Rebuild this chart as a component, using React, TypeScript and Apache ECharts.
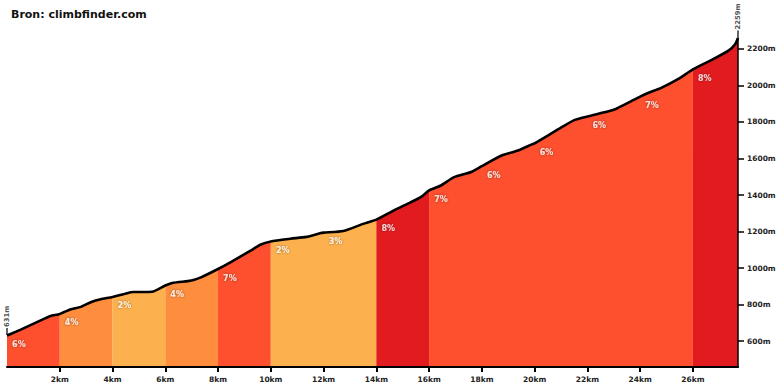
import React, { useEffect, useRef } from "react";
import * as echarts from "echarts";

const distKm = [0, 0.5, 1.4, 1.65, 2, 2.4, 2.8, 3.2, 3.55, 4, 4.55, 4.8, 5.5, 6, 6.3, 6.85, 7.1, 7.35, 8, 8.5, 9.25, 9.6, 10, 10.75, 11.35, 11.9, 12, 12.75, 13.5, 14, 14.65, 15.3, 15.7, 16, 16.45, 16.95, 17.6, 18, 18.75, 19.4, 19.9, 20, 20.5, 20.9, 21.5, 22, 22.8, 23.1, 23.65, 24, 24.3, 24.8, 25.45, 26, 26.7, 27.35, 27.6, 27.71];
const elevM = [631, 662, 722, 738, 749, 774, 788, 815, 830, 842, 863, 869, 871, 905, 920, 929, 936, 949, 995, 1034, 1097, 1128, 1146, 1161, 1171, 1192, 1194, 1203, 1242, 1265, 1315, 1360, 1390, 1425, 1452, 1498, 1526, 1558, 1616, 1645, 1677, 1683, 1725, 1760, 1810, 1830, 1858, 1872, 1912, 1938, 1958, 1986, 2035, 2087, 2138, 2190, 2225, 2259];

const segStart = [0, 2, 4, 6, 8, 10, 12, 14, 16, 18, 20, 22, 24, 26];
const segEnd = [2, 4, 6, 8, 10, 12, 14, 16, 18, 20, 22, 24, 26, 27.71];
const gradients = [6, 4, 2, 4, 7, 2, 3, 8, 7, 6, 6, 6, 7, 8];

const xTicks = [2, 4, 6, 8, 10, 12, 14, 16, 18, 20, 22, 24, 26];
const yTicks = [600, 800, 1000, 1200, 1400, 1600, 1800, 2000, 2200];

const titleText = "Bron: climbfinder.com";

function gradColor(g: number): string {
  if (g >= 8) return "#E21B1E";
  if (g >= 6) return "#FE502E";
  if (g >= 4) return "#FE8D3E";
  return "#FDB14E";
}

function elevAt(km: number): number {
  for (let i = 0; i < distKm.length - 1; i++) {
    if (km >= distKm[i] && km <= distKm[i + 1]) {
      const t = (km - distKm[i]) / (distKm[i + 1] - distKm[i]);
      return elevM[i] + t * (elevM[i + 1] - elevM[i]);
    }
  }
  return elevM[elevM.length - 1];
}

const FONT = "DejaVu Sans";

export default function App() {
  const ref = useRef<HTMLDivElement>(null);
  useEffect(() => {
    if (!ref.current) return;
    const chart = echarts.init(ref.current, null, { renderer: "svg" });
    const profile = distKm.map((d, i) => [d, elevM[i]]);
    const xMax = distKm[distKm.length - 1];
    const yMin = 459;
    const yMax = elevM[elevM.length - 1];

    // merge consecutive segments sharing a colour
    const groups: { start: number; end: number; color: string }[] = [];
    segStart.forEach((s, i) => {
      const c = gradColor(gradients[i]);
      const last = groups[groups.length - 1];
      if (last && last.color === c) last.end = segEnd[i];
      else groups.push({ start: s, end: segEnd[i], color: c });
    });

    const areaSeries = groups.map((g) => ({
      type: "line",
      data: profile.filter((p) => p[0] >= g.start && p[0] <= g.end),
      symbol: "none",
      showSymbol: false,
      smooth: 0.2,
      silent: true,
      lineStyle: { width: 0 },
      areaStyle: { color: g.color, opacity: 1, origin: "start" },
      z: 2,
    }));

    const option: any = {
      animation: false,
      title: {
        text: titleText,
        left: 11,
        top: 9,
        padding: 0,
        textStyle: { fontFamily: FONT, fontWeight: "bold", fontSize: 11, color: "#111" },
      },
      grid: { left: 7, right: 42, top: 38, bottom: 23, containLabel: false },
      xAxis: {
        type: "value",
        min: 0,
        max: xMax,
        z: 10,
        splitLine: { show: false },
        axisLine: { show: true, onZero: false, lineStyle: { color: "#000", width: 2 } },
        axisTick: { show: true, customValues: xTicks, length: 5, lineStyle: { color: "#000", width: 2 } },
        axisLabel: {
          customValues: xTicks,
          formatter: (v: number) => `${v}km`,
          fontFamily: FONT,
          fontWeight: "bold",
          fontSize: 7.5,
          color: "#222",
          margin: 8,
        },
      },
      yAxis: {
        type: "value",
        position: "right",
        min: yMin,
        max: yMax,
        z: 10,
        splitLine: { show: false },
        axisLine: { show: true, onZero: false, lineStyle: { color: "#000", width: 1.5 } },
        axisTick: { show: true, customValues: yTicks, length: 6, lineStyle: { color: "#000", width: 1.5 } },
        axisLabel: {
          customValues: yTicks,
          formatter: (v: number) => `${v}m`,
          fontFamily: FONT,
          fontWeight: "bold",
          fontSize: 7.5,
          color: "#222",
          margin: 9,
        },
      },
      series: [
        ...areaSeries,
        {
          type: "line",
          data: profile,
          symbol: "none",
          showSymbol: false,
          smooth: 0.2,
          silent: true,
          lineStyle: { color: "#000", width: 2.6 },
          z: 5,
        },
        {
          type: "scatter",
          data: segStart.map((s, i) => ({ value: [s + 0.45, elevAt(s)], name: `${gradients[i]}%` })),
          symbol: "circle",
          symbolSize: 2,
          itemStyle: { color: "rgba(0,0,0,0)" },
          silent: true,
          clip: false,
          z: 6,
          label: {
            show: true,
            position: "inside",
            offset: [0, 9],
            formatter: "{b}",
            fontFamily: FONT,
            fontWeight: "bold",
            fontSize: 8,
            color: "#fff",
            textBorderWidth: 0,
            textShadowColor: "rgba(0,0,0,0.6)",
            textShadowBlur: 2,
          },
        },
        {
          type: "scatter",
          data: [
            [distKm[0], elevM[0]],
            [xMax, yMax],
          ],
          clip: false,
          symbol: "rect",
          symbolSize: [1.5, 7],
          symbolOffset: [0, -4],
          itemStyle: { color: "#000" },
          silent: true,
          z: 7,
          label: {
            show: true,
            position: "top",
            distance: 1,
            rotate: 90,
            align: "left",
            verticalAlign: "middle",
            formatter: (p: any) => `${p.value[1]}m`,
            fontFamily: FONT,
            fontWeight: "bold",
            fontSize: 6.8,
            color: "#222",
          },
        },
      ],
    };
    chart.setOption(option);
    return () => chart.dispose();
  }, []);
  return (
    <div
      ref={ref}
      style={{ position: "fixed", left: 0, top: 0, width: 780, height: 390, background: "#fff" }}
    />
  );
}
